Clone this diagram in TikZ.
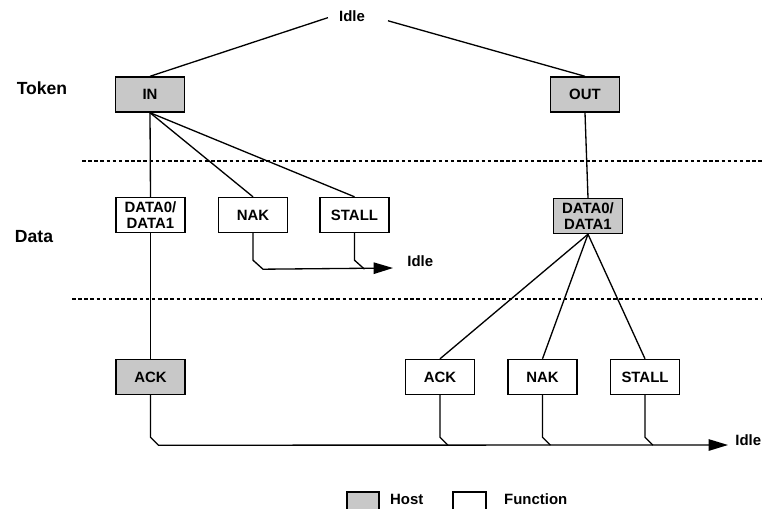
\documentclass[tikz,border=0pt]{standalone}
\usepackage{fontspec}
\setmainfont{Liberation Sans}
\usetikzlibrary{arrows.meta}
\definecolor{hostgray}{HTML}{C8C8C8}
\tikzset{
  box/.style={draw, line width=0.8pt, minimum width=1.38cm, minimum height=0.70cm,
    inner sep=1pt, font=\fontsize{8.5}{9.5}\selectfont\bfseries, align=center},
  host/.style={box, fill=hostgray},
  func/.style={box, fill=white},
  lbl/.style={font=\fontsize{8.5}{10}\selectfont\bfseries},
  side/.style={font=\fontsize{10}{12}\selectfont\bfseries},
  wire/.style={line width=0.75pt},
  sep/.style={line width=0.6pt, dash pattern=on 2pt off 1.5pt},
  flow/.style={wire, -{Triangle[length=11pt,width=6.5pt]}},
}
\begin{document}
\begin{tikzpicture}[x=0.02cm, y=-0.02cm]
\useasboundingbox (0,0) rectangle (762,508);

% row labels
\node[side] (token) at (42,88) {Token};
\node[side] (data) at (34,237) {Data};

% phase separators
\coordinate (s1a) at (82,161);  \coordinate (s1b) at (762,161);
\coordinate (s2a) at (72,299);  \coordinate (s2b) at (762,299);
\draw[sep] (s1a) -- (s1b);
\draw[sep] (s2a) -- (s2b);

% token phase
\node[lbl] (idle) at (352,16) {Idle};
\node[host] (in)  at (150,94.5) {IN};
\node[host] (out) at (585,94.5) {OUT};

% data phase
\node[func] (dl)  at (150.5,215) {DATA0/\\DATA1};
\node[func] (nakl) at (253,215) {NAK};
\node[func] (stalll) at (354.5,215) {STALL};
\node[host] (dr)  at (588,216) {DATA0/\\DATA1};

% handshake phase
\node[host] (ackl) at (150.5,377) {ACK};
\node[func] (ackr) at (440,377) {ACK};
\node[func] (nakr) at (542.5,377) {NAK};
\node[func] (stallr) at (645,377) {STALL};

% return points
\coordinate (retA) at (393,268);
\coordinate (retB) at (728,445);
\node[lbl, anchor=west, inner sep=0pt] (idleA) at (407,261) {Idle};
\node[lbl, anchor=west, inner sep=0pt] (idleB) at (735,440) {Idle};

% token edges
\draw[wire, shorten <=3pt] (idle.west) -- (in.north);
\draw[wire, shorten <=10pt] (idle.east) -- (out.north);

% IN transaction
\draw[wire] (in.south) -- (dl.north);
\draw[wire] (in.south) -- (nakl.north);
\draw[wire] (in.south) -- (stalll.north);
\draw[wire] (dl.south) -- (ackl.north);
\draw[flow] (nakl.south) -- ++(0,27) -- ++(10,9) -- (retA);
\draw[wire] (stalll.south) -- ++(0,27) -- ++(10,9);

% OUT transaction
\draw[wire] (out.south) -- (dr.north);
\draw[wire] (dr.south) -- (ackr.north);
\draw[wire] (dr.south) -- (nakr.north);
\draw[wire] (dr.south) -- (stallr.north);

% handshakes back to idle
\draw[flow] (ackl.south) -- ++(0,42) -- ++(8,8) -- (retB);
\draw[wire] (ackr.south) -- ++(0,42) -- ++(8,8);
\draw[wire] (nakr.south) -- ++(0,42) -- ++(8,8);
\draw[wire] (stallr.south) -- ++(0,42) -- ++(8,8);

% legend
\node[draw, fill=hostgray, line width=0.7pt, minimum width=0.64cm, minimum height=0.36cm, inner sep=0pt] (lhost) at (363,501) {};
\node[lbl, anchor=west] (lhostt) at (384,499) {Host};
\node[draw, fill=white, line width=0.7pt, minimum width=0.66cm, minimum height=0.36cm, inner sep=0pt] (lfunc) at (469.5,501) {};
\node[lbl, anchor=west] (lfunct) at (498,499) {Function};
\end{tikzpicture}
\end{document}
